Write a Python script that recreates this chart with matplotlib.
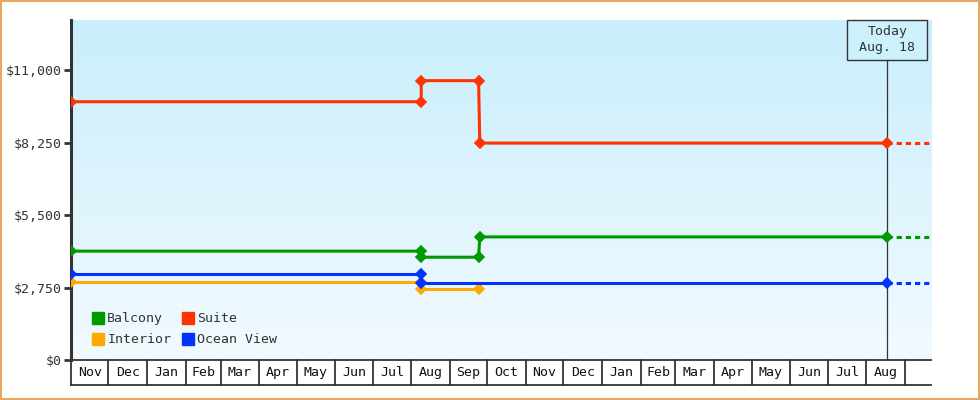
import numpy as np
import matplotlib
matplotlib.use('Agg')
from matplotlib import pyplot as plt
from matplotlib import dates as mdates
from matplotlib.patches import Rectangle
from datetime import date

# data
balcony_dates = ['2012-11-01', '2013-08-09', '2013-08-09', '2013-09-24', '2013-09-25', '2014-08-18']
balcony_prices = [4130, 4130, 3900, 3900, 4670, 4670]

suite_dates = ['2012-11-01', '2013-08-09', '2013-08-09', '2013-09-24', '2013-09-25', '2014-08-18']
suite_prices = [9800, 9800, 10600, 10600, 8230, 8230]

interior_dates = ['2012-11-01', '2013-08-09', '2013-08-09', '2013-09-24']
interior_prices = [2962, 2962, 2685, 2685]

ocean_dates = ['2012-11-01', '2013-08-09', '2013-08-09', '2014-08-18']
ocean_prices = [3266, 3266, 2924, 2924]

month_starts = ['2012-11-01', '2012-12-01', '2013-01-01', '2013-02-01', '2013-03-01',
                '2013-04-01', '2013-05-01', '2013-06-01', '2013-07-01', '2013-08-01',
                '2013-09-01', '2013-10-01', '2013-11-01', '2013-12-01', '2014-01-01',
                '2014-02-01', '2014-03-01', '2014-04-01', '2014-05-01', '2014-06-01',
                '2014-07-01', '2014-08-01', '2014-09-01']
month_labels = ['Nov', 'Dec', 'Jan', 'Feb', 'Mar', 'Apr', 'May', 'Jun', 'Jul', 'Aug',
                'Sep', 'Oct', 'Nov', 'Dec', 'Jan', 'Feb', 'Mar', 'Apr', 'May', 'Jun',
                'Jul', 'Aug']

y_ticks = [0, 2750, 5500, 8250, 11000]
y_tick_labels = ['$0', '$2,750', '$5,500', '$8,250', '$11,000']

today = '2014-08-18'
today_label = 'Today\nAug. 18'
x_start = '2012-11-01'
x_end = '2014-09-22'

DARK = '#333333'
FONT = 'DejaVu Sans Mono'
FS = 9.5


def to_num(day_strings):
    return [mdates.date2num(date.fromisoformat(d)) for d in day_strings]


fig = plt.figure(figsize=(9.8, 4.0), dpi=100)
ax = fig.add_axes([71 / 980, 40 / 400, 860 / 980, 340 / 400])

x0 = to_num([x_start])[0]
x1 = to_num([x_end])[0]
ax.set_xlim(x0, x1)
ax.set_ylim(0, 12900)

# gradient background
grad = np.linspace(0, 1, 256).reshape(-1, 1)
top_rgb = np.array([0xc9, 0xee, 0xfc]) / 255
bot_rgb = np.array([0xf2, 0xfa, 0xff]) / 255
img = top_rgb * (1 - grad[..., None]) + bot_rgb * grad[..., None]
ax.imshow(img, extent=[0, 1, 0, 1], transform=ax.transAxes, aspect='auto',
          zorder=0, origin='upper')

series = [
    ('Interior', interior_dates, interior_prices, '#ffaa00', False),
    ('Ocean View', ocean_dates, ocean_prices, '#0033ff', True),
    ('Balcony', balcony_dates, balcony_prices, '#009900', True),
    ('Suite', suite_dates, suite_prices, '#ff3300', True),
]
today_num = to_num([today])[0]
handles = {}
for name, d, p, color, extend in series:
    xs = to_num(d)
    ax.plot(xs, p, color=color, linewidth=2.2, marker='D', markersize=4.6,
            markeredgewidth=1.2, markeredgecolor=color, zorder=3,
            solid_joinstyle='miter')
    if extend:
        ax.plot([today_num, x1], [p[-1], p[-1]], color=color, linewidth=2.2,
                dashes=(1.7, 1.3), dash_capstyle='butt', zorder=3)
    handles[name] = plt.Line2D([], [], color=color, marker='s', linestyle='none',
                               markersize=8)

leg = ax.legend([handles['Balcony'], handles['Interior'], handles['Suite'], handles['Ocean View']],
                ['Balcony', 'Interior', 'Suite', 'Ocean View'],
                ncol=2, loc='lower left', bbox_to_anchor=(0.02, 0.025), frameon=False,
                prop={'family': FONT, 'size': FS}, handlelength=0.7, handletextpad=0.35,
                columnspacing=0.9, labelspacing=0.6, borderaxespad=0)
for t in leg.get_texts():
    t.set_color(DARK)

# today marker line and box
blend = ax.get_xaxis_transform()
ax.plot([today_num, today_num], [0, 1], transform=blend,
        color=DARK, linewidth=0.9, zorder=2)
half_w = 40 / (860 / (x1 - x0))
box_bottom = (360 - 60) / 340
ax.add_patch(Rectangle((today_num - half_w, box_bottom), 2 * half_w, 1 - box_bottom,
                       transform=blend, facecolor='#ccf0fc', edgecolor=DARK,
                       linewidth=1.0, zorder=4, clip_on=False))
ax.text(today_num, (box_bottom + 1) / 2, today_label, transform=blend, ha='center',
        va='center', family=FONT, fontsize=FS, color=DARK, zorder=5,
        linespacing=1.3)

# y axis
ax.set_yticks(y_ticks)
ax.set_yticklabels(y_tick_labels, family=FONT, fontsize=FS, color=DARK)
ax.tick_params(axis='y', length=5, width=2, color=DARK, pad=2)
ax.set_xticks([])
for side in ['top', 'right']:
    ax.spines[side].set_visible(False)
ax.spines['left'].set_color(DARK)
ax.spines['left'].set_linewidth(2.2)
ax.spines['bottom'].set_color(DARK)
ax.spines['bottom'].set_linewidth(1.3)

# month cells under the axis
cell_bottom = -25 / 340
edges = to_num(month_starts)
ax.plot([x0, x1], [cell_bottom, cell_bottom], transform=blend, color=DARK,
        linewidth=1.3, clip_on=False)
for e in edges:
    ax.plot([e, e], [0, cell_bottom], transform=blend, color=DARK,
            linewidth=1.3, clip_on=False)
for i, lab in enumerate(month_labels):
    ax.text((edges[i] + edges[i + 1]) / 2, cell_bottom / 2, lab, transform=blend,
            ha='center', va='center', family=FONT, fontsize=FS, color='#111111')

# figure border
fig.patches.append(Rectangle((0.001, 0.002), 0.998, 0.996, transform=fig.transFigure,
                             fill=False, edgecolor='#e8a860', linewidth=1.5))

fig.savefig('out.png', dpi=100)
